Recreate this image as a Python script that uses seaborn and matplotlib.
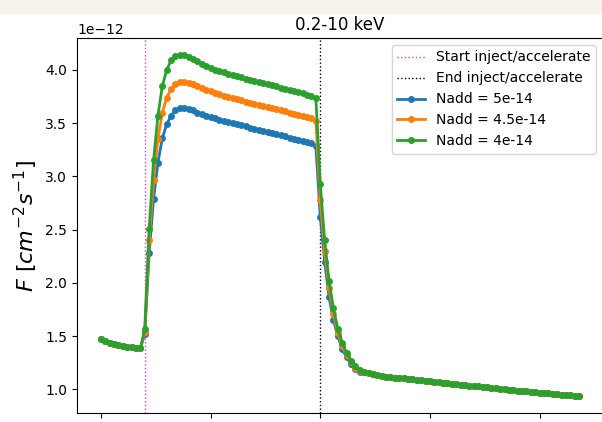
import numpy as np
import matplotlib
matplotlib.use("Agg")
import matplotlib.pyplot as plt
import seaborn as sns
from matplotlib.patches import Rectangle

# time grid (arbitrary units, regular sampling)
t = np.round(np.arange(110) * 0.2, 1)
t_start = 2.0
t_end = 10.0

# flux before injection (same for all runs)
pre_flux = [1.475, 1.455, 1.44, 1.43, 1.42, 1.41, 1.40, 1.395, 1.39, 1.385]

# rise + plateau + drop, per run
flux_5e14 = [1.52, 2.28, 2.79, 3.13, 3.36, 3.49, 3.57, 3.62, 3.64, 3.64,
             3.63, 3.62, 3.60, 3.59, 3.57, 3.56, 3.545, 3.53, 3.52, 3.51,
             3.50, 3.49, 3.48, 3.47, 3.455, 3.445, 3.435, 3.425, 3.415, 3.405,
             3.395, 3.385, 3.375, 3.365, 3.355, 3.345, 3.335, 3.32, 3.31, 3.285,
             2.62, 2.20, 1.87, 1.65, 1.50, 1.38, 1.30, 1.24, 1.19, 1.165]
flux_45e14 = [1.54, 2.40, 2.97, 3.35, 3.60, 3.74, 3.82, 3.87, 3.89, 3.89,
              3.88, 3.865, 3.85, 3.83, 3.815, 3.80, 3.785, 3.77, 3.76, 3.745,
              3.735, 3.725, 3.715, 3.70, 3.69, 3.68, 3.67, 3.66, 3.65, 3.64,
              3.63, 3.62, 3.61, 3.60, 3.59, 3.58, 3.57, 3.555, 3.545, 3.52,
              2.78, 2.30, 1.95, 1.71, 1.53, 1.41, 1.32, 1.255, 1.205, 1.17]
flux_4e14 = [1.57, 2.51, 3.15, 3.57, 3.85, 4.00, 4.09, 4.13, 4.14, 4.14,
             4.12, 4.10, 4.08, 4.06, 4.04, 4.02, 4.00, 3.99, 3.98, 3.965,
             3.95, 3.94, 3.93, 3.915, 3.905, 3.895, 3.885, 3.875, 3.865, 3.855,
             3.845, 3.835, 3.825, 3.81, 3.80, 3.79, 3.78, 3.765, 3.755, 3.735,
             2.93, 2.40, 2.02, 1.76, 1.57, 1.44, 1.34, 1.27, 1.22, 1.18]

# slow tail after the drop (same for all runs)
tail_flux = [1.165, 1.15, 1.14, 1.132, 1.125, 1.119, 1.114, 1.110, 1.106, 1.102,
             1.098, 1.094, 1.090, 1.086, 1.081, 1.076, 1.071, 1.067, 1.063, 1.058,
             1.053, 1.049, 1.045, 1.040, 1.036, 1.032, 1.027, 1.022, 1.018, 1.014,
             1.010, 1.005, 1.001, 0.997, 0.993, 0.989, 0.985, 0.981, 0.977, 0.973,
             0.969, 0.965, 0.962, 0.958, 0.955, 0.951, 0.948, 0.945, 0.942, 0.938]

labels = ['Nadd = 5e-14', 'Nadd = 4.5e-14', 'Nadd = 4e-14']
runs = [flux_5e14, flux_45e14, flux_4e14]
colors = ['#1f77b4', '#ff7f0e', '#2ca02c']

fig = plt.figure(figsize=(6.02, 4.22), dpi=100)
# cream strip at the top of the screenshot
fig.patches.append(Rectangle((0, 1 - 14 / 422), 1, 14 / 422, transform=fig.transFigure,
                             facecolor='#f7f3e9', edgecolor='none', zorder=-1))
ax = fig.add_axes([77 / 602, 9 / 422, 526 / 602, 375 / 422])

ax.axvline(t_start, color='#d040d0', ls=':', lw=1, label='Start inject/accelerate')
ax.axvline(t_end, color='k', ls=':', lw=1, label='End inject/accelerate')

for lab, run, c in zip(labels, runs, colors):
    y = np.array(pre_flux + run + tail_flux) * 1e-12
    sns.lineplot(x=t, y=y, ax=ax, color=c, label=lab, marker='o', markersize=5,
                 markeredgewidth=0, linewidth=2)

ax.set_title('0.2-10 keV', fontsize=12)
ax.set_ylabel(r'$F\ [cm^{-2} s^{-1}]$', fontsize=16)
ax.set_xticks([0, 5, 10, 15, 20])
ax.tick_params(axis='x', labelbottom=False)
ax.legend(loc='upper right', fontsize=10)

fig.savefig('out.png', dpi=100)
